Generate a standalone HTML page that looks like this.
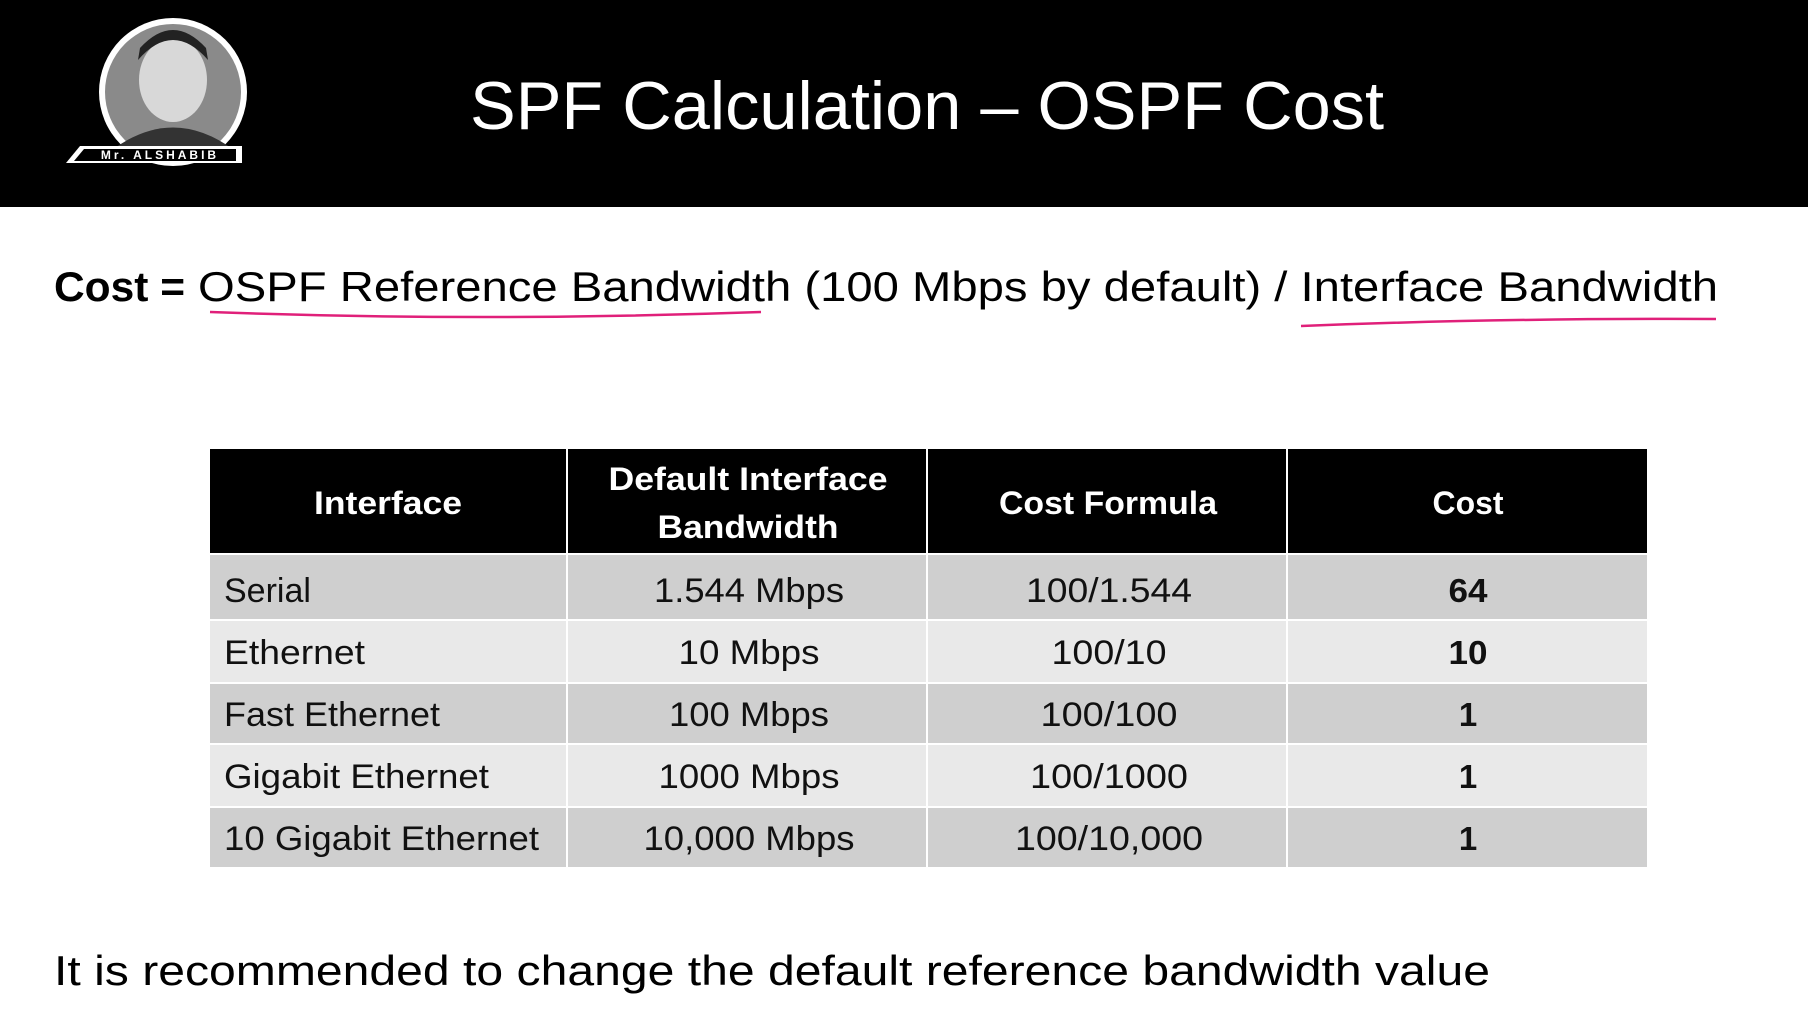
<!DOCTYPE html>
<html><head><meta charset="utf-8"><style>html,body{margin:0;padding:0;background:#fff;}svg{display:block}</style></head>
<body>
<svg width="1808" height="1021" viewBox="0 0 1808 1021" xmlns="http://www.w3.org/2000/svg" font-family="Liberation Sans, sans-serif">
<rect x="0" y="0" width="1808" height="1021" fill="#fff"/>
<rect x="0" y="0" width="1808" height="207" fill="#000"/>
<!-- avatar -->
<circle cx="173" cy="92" r="74" fill="#fff"/>
<circle cx="173" cy="92" r="68" fill="#8a8a8a"/>
<ellipse cx="173" cy="80" rx="34" ry="42" fill="#d8d8d8"/>
<path d="M138 60 Q173 20 208 60 L206 48 Q173 12 140 48 Z" fill="#222"/>
<path d="M112 150 Q173 105 234 150 L234 160 L112 160 Z" fill="#333"/>
<polygon points="66,163 80,146 242,146 242,163" fill="#fff"/>
<polygon points="74,161 84,149 236,149 236,161" fill="#000"/>
<text x="160" y="159" font-size="12" font-weight="bold" fill="#fff" text-anchor="middle" letter-spacing="3">Mr. ALSHABIB</text>
<!-- title -->
<text x="470" y="129" font-size="68" fill="#fff" textLength="914" lengthAdjust="spacingAndGlyphs">SPF Calculation – OSPF Cost</text>
<!-- cost line -->
<text x="54" y="301" font-size="42" font-weight="bold" fill="#000" textLength="131" lengthAdjust="spacingAndGlyphs">Cost =</text>
<text x="198" y="301" font-size="42" fill="#000" textLength="1520" lengthAdjust="spacingAndGlyphs">OSPF Reference Bandwidth (100 Mbps by default) / Interface Bandwidth</text>
<path d="M210 312 Q480 322 761 312" stroke="#e0207a" stroke-width="2.5" fill="none"/>
<path d="M1301 326 Q1500 318 1716 319" stroke="#e0207a" stroke-width="2.5" fill="none"/>
<!-- table -->
<rect x="210" y="449" width="1437" height="104" fill="#000"/>
<rect x="210" y="555" width="1437" height="64" fill="#cfcfcf"/>
<rect x="210" y="621" width="1437" height="61" fill="#e9e9e9"/>
<rect x="210" y="684" width="1437" height="59" fill="#cfcfcf"/>
<rect x="210" y="745" width="1437" height="61" fill="#e9e9e9"/>
<rect x="210" y="808" width="1437" height="59" fill="#cfcfcf"/>
<g stroke="#fff" stroke-width="2">
<line x1="567" y1="449" x2="567" y2="867"/><line x1="927" y1="449" x2="927" y2="867"/><line x1="1287" y1="449" x2="1287" y2="867"/>
</g>
<g font-size="32" font-weight="bold" fill="#fff" text-anchor="middle">
<text x="388" y="514" textLength="148" lengthAdjust="spacingAndGlyphs">Interface</text>
<text x="748" y="490" textLength="279" lengthAdjust="spacingAndGlyphs">Default Interface</text>
<text x="748" y="538" textLength="181" lengthAdjust="spacingAndGlyphs">Bandwidth</text>
<text x="1108" y="514" textLength="218" lengthAdjust="spacingAndGlyphs">Cost Formula</text>
<text x="1468" y="514" textLength="71" lengthAdjust="spacingAndGlyphs">Cost</text>
</g>
<g font-size="34" fill="#111">
<text x="224" y="602">Serial</text>
<text x="224" y="664" textLength="141" lengthAdjust="spacingAndGlyphs">Ethernet</text>
<text x="224" y="726" textLength="216" lengthAdjust="spacingAndGlyphs">Fast Ethernet</text>
<text x="224" y="788" textLength="265" lengthAdjust="spacingAndGlyphs">Gigabit Ethernet</text>
<text x="224" y="850" textLength="315" lengthAdjust="spacingAndGlyphs">10 Gigabit Ethernet</text>
</g>
<g font-size="34" fill="#111" text-anchor="middle">
<text x="749" y="602" textLength="190" lengthAdjust="spacingAndGlyphs">1.544 Mbps</text>
<text x="749" y="664" textLength="141" lengthAdjust="spacingAndGlyphs">10 Mbps</text>
<text x="749" y="726" textLength="160" lengthAdjust="spacingAndGlyphs">100 Mbps</text>
<text x="749" y="788" textLength="181" lengthAdjust="spacingAndGlyphs">1000 Mbps</text>
<text x="749" y="850" textLength="211" lengthAdjust="spacingAndGlyphs">10,000 Mbps</text>
<text x="1109" y="602" textLength="166" lengthAdjust="spacingAndGlyphs">100/1.544</text>
<text x="1109" y="664" textLength="115" lengthAdjust="spacingAndGlyphs">100/10</text>
<text x="1109" y="726" textLength="137" lengthAdjust="spacingAndGlyphs">100/100</text>
<text x="1109" y="788" textLength="158" lengthAdjust="spacingAndGlyphs">100/1000</text>
<text x="1109" y="850" textLength="188" lengthAdjust="spacingAndGlyphs">100/10,000</text>
</g>
<g font-size="33" font-weight="bold" fill="#111" text-anchor="middle">
<text x="1468" y="602" textLength="39" lengthAdjust="spacingAndGlyphs">64</text>
<text x="1468" y="664" textLength="39" lengthAdjust="spacingAndGlyphs">10</text>
<text x="1468" y="726">1</text>
<text x="1468" y="788">1</text>
<text x="1468" y="850">1</text>
</g>
<!-- bottom -->
<text x="54" y="985" font-size="42" fill="#000" textLength="1436" lengthAdjust="spacingAndGlyphs">It is recommended to change the default reference bandwidth value</text>
</svg>
</body></html>
